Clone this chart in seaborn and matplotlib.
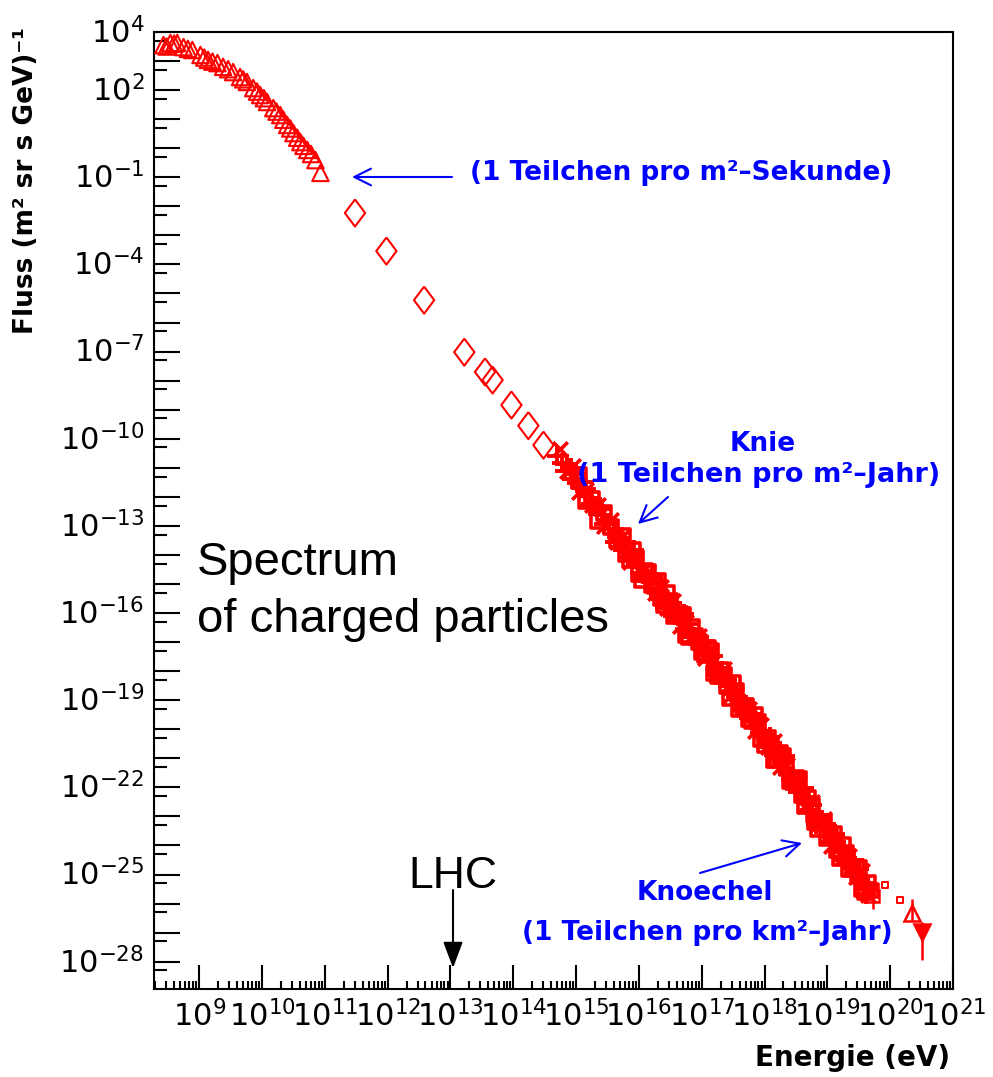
import numpy as np
import pandas as pd
import seaborn as sns
import matplotlib.pyplot as plt
import matplotlib.transforms as mtransforms
from matplotlib.ticker import FixedLocator, NullFormatter

# values are log10(energy / eV) and log10(flux)
tri_logE = [8.43, 8.48, 8.54, 8.60, 8.65, 8.75, 8.82, 8.89, 9.02, 9.08, 9.14, 9.21, 9.29,
            9.38, 9.46, 9.54, 9.65, 9.70, 9.76, 9.86, 9.92, 9.97, 10.03, 10.08, 10.18,
            10.23, 10.29, 10.34, 10.40, 10.45, 10.50, 10.56, 10.61, 10.66, 10.72, 10.78,
            10.85, 10.93]
tri_logF = [3.55, 3.50, 3.62, 3.60, 3.62, 3.48, 3.42, 3.38, 3.21, 3.12, 3.04, 2.98, 2.93,
            2.80, 2.72, 2.62, 2.45, 2.37, 2.28, 2.07, 1.95, 1.83, 1.72, 1.59, 1.38,
            1.26, 1.14, 0.98, 0.80, 0.68, 0.52, 0.36, 0.21, 0.08, -0.06, -0.20,
            -0.41, -0.85]

dia_logE = [11.48, 11.98, 12.58, 13.22, 13.55, 13.67, 13.97, 14.24, 14.48]
dia_logF = [-2.23, -3.54, -5.23, -7.02, -7.70, -7.98, -8.84, -9.55, -10.22]

plus_logE = [14.70, 14.78, 14.85, 14.93, 15.00, 15.08, 15.15, 15.23, 15.30, 15.38, 15.45,
             15.53, 15.60, 15.68, 15.75, 15.83, 15.90, 15.98, 16.05, 16.13, 16.20, 16.28,
             16.35, 16.43, 16.50, 16.58, 16.65, 16.73, 16.80, 16.88, 16.95, 17.03, 17.10,
             17.18, 17.25, 17.33, 17.40, 17.48, 17.55, 17.63, 17.70, 17.78, 17.85, 17.93,
             18.00, 18.08, 18.15, 18.23, 18.30, 18.38, 18.45, 18.53, 18.60, 18.68, 18.75,
             18.83, 18.90, 18.98, 19.05, 19.13, 19.20, 19.28, 19.35, 19.43, 19.50, 19.58,
             19.65]
plus_logF = [-10.60, -10.82, -10.86, -11.37, -11.21, -11.70, -11.73, -12.23, -12.33, -12.34,
             -12.92, -12.91, -13.10, -13.55, -13.59, -14.07, -13.90, -14.36, -14.35, -14.82,
             -14.92, -14.92, -15.50, -15.48, -15.64, -16.07, -16.09, -16.55, -16.36, -16.82,
             -16.84, -17.34, -17.45, -17.48, -18.08, -18.09, -18.30, -18.78, -18.84, -19.35,
             -19.18, -19.65, -19.66, -20.14, -20.25, -20.27, -20.87, -20.87, -21.07, -21.54,
             -21.61, -22.15, -22.03, -22.55, -22.59, -23.10, -23.23, -23.27, -23.87, -23.87,
             -24.04, -24.49, -24.51, -24.99, -24.80, -25.30, -25.35]

plus2_logE = [14.82, 14.92, 15.02, 15.12, 15.22, 15.32, 15.42, 15.52, 15.62, 15.72, 15.82,
              15.92, 16.02, 16.12, 16.22, 16.32, 16.42, 16.52, 16.62, 16.72, 16.82, 16.92,
              17.02, 17.12, 17.22, 17.32, 17.42, 17.52, 17.62, 17.72, 17.82, 17.92, 18.02,
              18.12, 18.22, 18.32, 18.42, 18.52, 18.62, 18.72, 18.82, 18.92, 19.02, 19.12,
              19.22, 19.32, 19.42, 19.52, 19.62]
plus2_logF = [-11.10, -10.99, -11.51, -11.48, -12.30, -12.34, -12.43, -13.12, -13.56, -13.40,
              -13.89, -13.83, -14.62, -14.65, -14.73, -15.41, -15.83, -15.64, -16.11, -16.02,
              -16.80, -16.85, -16.95, -17.66, -18.12, -17.99, -18.51, -18.49, -19.31, -19.37,
              -19.47, -20.16, -20.61, -20.46, -20.97, -20.93, -21.75, -21.86, -22.03, -22.79,
              -23.27, -23.14, -23.66, -23.62, -24.40, -24.43, -24.51, -25.19, -25.68]

sq_logE = [15.8, 15.9, 16.0, 16.1, 16.2, 16.3, 16.4, 16.5, 16.6, 16.7, 16.8, 16.9, 17.0,
           17.1, 17.2, 17.3, 17.4, 17.5, 17.6, 17.7, 17.8, 17.9, 18.0, 18.1, 18.2, 18.3,
           18.4, 18.5, 18.6, 18.7, 18.8, 18.9, 19.0, 19.1, 19.2, 19.3, 19.4, 19.5, 19.6,
           19.7]
sq_logF = [-13.98, -13.83, -14.66, -14.54, -15.02, -14.90, -15.73, -15.59, -16.06, -16.07,
           -16.84, -16.79, -17.34, -17.20, -18.06, -17.97, -18.50, -18.42, -19.30, -19.21,
           -19.71, -19.75, -20.55, -20.50, -21.06, -20.92, -21.78, -21.69, -22.26, -22.37,
           -23.21, -23.18, -23.75, -23.62, -24.44, -24.27, -24.80, -24.78, -25.60, -25.55]

sq2_logE = [15.05, 15.15, 15.25, 15.35, 15.45, 15.55, 15.65, 15.75, 15.85, 15.95, 16.05,
            16.15, 16.25, 16.35, 16.45, 16.55, 16.65, 16.75, 16.85, 16.95, 17.05, 17.15,
            17.25, 17.35, 17.45, 17.55, 17.65, 17.75, 17.85, 17.95, 18.05, 18.15, 18.25,
            18.35, 18.45, 18.55, 18.65, 18.75, 18.85, 18.95, 19.05, 19.15, 19.25, 19.35,
            19.45, 19.55, 19.65]
sq2_logF = [-11.25, -12.13, -12.08, -12.82, -12.56, -13.05, -13.49, -13.34, -14.18, -14.12,
            -14.85, -14.58, -15.06, -15.49, -15.31, -16.12, -16.04, -16.75, -16.49, -16.99,
            -17.45, -17.30, -18.17, -18.13, -18.91, -18.69, -19.20, -19.66, -19.51, -20.35,
            -20.30, -21.06, -20.81, -21.32, -21.81, -21.72, -22.64, -22.64, -23.42, -23.19,
            -23.71, -24.15, -23.98, -24.81, -24.74, -25.49, -25.30]

star_logE = [14.75, 14.85, 14.95, 15.05, 15.15, 15.25, 15.35, 15.45, 15.55, 15.65, 15.75,
             15.85, 15.95, 16.05, 16.15, 16.25, 16.35, 16.45, 16.55, 16.65, 16.75, 16.85,
             16.95, 17.05, 17.15, 17.25, 17.35, 17.45, 17.55, 17.65, 17.75, 17.85, 17.95,
             18.05, 18.15, 18.25, 18.35, 18.45, 18.55, 18.65, 18.75, 18.85, 18.95, 19.05,
             19.15, 19.25, 19.35, 19.45, 19.55, 19.65]
star_logF = [-10.35, -11.11, -10.93, -11.85, -11.78, -12.28, -12.27, -13.01, -12.80, -13.54,
             -13.34, -14.23, -14.12, -14.60, -14.58, -15.31, -15.09, -15.81, -15.57, -16.44,
             -16.30, -16.79, -16.79, -17.55, -17.35, -18.12, -17.93, -18.86, -18.79, -19.30,
             -19.31, -20.06, -19.85, -20.60, -20.41, -21.31, -21.22, -21.76, -21.82, -22.64,
             -22.49, -23.27, -23.09, -24.01, -23.90, -24.38, -24.36, -25.09, -24.89, -25.70]

# points with error bars at the high energy end: logE, logF, lower, upper
err_logE = [18.75, 19.20, 19.45, 19.72]
err_logF = [-22.95, -24.30, -25.10, -25.75]
err_lo = [-23.30, -24.70, -25.50, -26.20]
err_hi = [-22.95, -24.30, -25.10, -25.75]

tail_sq_logE = [19.92, 20.16]
tail_sq_logF = [-25.36, -25.88]
up_logE, up_logF, up_lo, up_hi = [20.35], [-26.33], [-26.60], [-25.85]
dn_logE, dn_logF, dn_lo, dn_hi = [20.51], [-26.98], [-27.94], [-26.65]

x_exps = list(range(9, 22))
y_exps = list(range(-28, 5))
y_label_exps = [4, 2, -1, -4, -7, -10, -13, -16, -19, -22, -25, -28]

W, H = 993, 1077
red, blue = '#ff0000', '#0000ff'
diamond = [(0, 1), (0.75, 0), (0, -1), (-0.75, 0), (0, 1)]

sns.set_theme(style='white')
plt.rcParams['font.family'] = ['DejaVu Sans']
plt.rcParams['mathtext.fontset'] = 'dejavusans'
plt.rcParams['text.color'] = 'black'
plt.rcParams['xtick.direction'] = 'in'
plt.rcParams['ytick.direction'] = 'in'

fig = plt.figure(figsize=(W / 100, H / 100), dpi=100)
ax = fig.add_axes([154 / W, 1 - 989 / H, 799 / W, 957 / H])
ax.set_xscale('log')
ax.set_yscale('log')


def frame(le, lf):
    return pd.DataFrame({'E': 10.0 ** np.array(le), 'F': 10.0 ** np.array(lf)})


def P(x, y):
    return (x / W, 1 - y / H)


open_kw = dict(facecolor='none', edgecolor=red, ax=ax, zorder=3)
sns.scatterplot(data=frame(tri_logE, tri_logF), x='E', y='F', marker='^', s=140,
                linewidth=1.5, **open_kw)
sns.scatterplot(data=frame(dia_logE, dia_logF), x='E', y='F', marker=diamond, s=380,
                linewidth=1.5, **open_kw)
for le, lf in [(sq_logE, sq_logF), (sq2_logE, sq2_logF)]:
    sns.scatterplot(data=frame(le, lf), x='E', y='F', marker='s', s=100,
                    linewidth=2.6, **open_kw)
for le, lf in [(plus_logE, plus_logF), (plus2_logE, plus2_logF)]:
    sns.scatterplot(data=frame(le, lf), x='E', y='F', marker='+', s=200,
                    color=red, linewidth=2.8, ax=ax, zorder=3)
sns.scatterplot(data=frame(star_logE, star_logF), x='E', y='F', marker='x', s=110,
                color=red, linewidth=2.6, ax=ax, zorder=3)
sns.scatterplot(data=frame(tail_sq_logE, tail_sq_logF), x='E', y='F', marker='s', s=18,
                linewidth=1.4, **open_kw)

for le, lf, lo, hi, mk, fc in [(err_logE, err_logF, err_lo, err_hi, 's', 'none'),
                               (up_logE, up_logF, up_lo, up_hi, '^', 'none'),
                               (dn_logE, dn_logF, dn_lo, dn_hi, 'v', red)]:
    e = 10.0 ** np.array(le)
    f = 10.0 ** np.array(lf)
    yerr = [f - 10.0 ** np.array(lo), 10.0 ** np.array(hi) - f]
    ax.errorbar(e, f, yerr=yerr, fmt=mk, ms=12 if mk != 's' else 8, mfc=fc, mec=red,
                mew=1.8, ecolor=red, elinewidth=1.8, capsize=0, zorder=3)

ax.set_xlim(10 ** 8.28, 10 ** 21.0)
ax.set_ylim(10 ** -28.94, 10 ** 4.0)

ax.set_xticks([10.0 ** k for k in x_exps], labels=[f'$10^{{{k}}}$' for k in x_exps])
ax.xaxis.set_minor_locator(FixedLocator([m * 10.0 ** k for k in range(8, 21) for m in range(2, 10)]))
ax.xaxis.set_minor_formatter(NullFormatter())
ax.set_yticks([10.0 ** k for k in y_exps],
              labels=[f'$10^{{{k}}}$' if k in y_label_exps else '' for k in y_exps])
ax.yaxis.set_minor_locator(FixedLocator([5 * 10.0 ** k for k in range(-29, 4)]))
ax.yaxis.set_minor_formatter(NullFormatter())

ax.tick_params(axis='both', which='both', direction='in', color='black', width=1.5,
               bottom=True, left=True, top=False, right=False, labelsize=22,
               labelcolor='black')
ax.tick_params(axis='y', which='major', length=18.5, pad=7)
ax.tick_params(axis='y', which='minor', length=9.5)
ax.tick_params(axis='x', which='major', length=17, pad=8)
ax.tick_params(axis='x', which='minor', length=6)
shift = mtransforms.ScaledTranslation(0, 2 / 100, fig.dpi_scale_trans)
for lab in ax.get_yticklabels():
    lab.set_transform(lab.get_transform() + shift)

for sp in ax.spines.values():
    sp.set_color('black')
    sp.set_linewidth(1.5)
ax.grid(False)
ax.set_xlabel('')
ax.set_ylabel('')

fig.text(*P(26, 27), 'Fluss (m² sr s GeV)⁻¹', rotation=90, ha='center', va='top',
         fontsize=19, fontweight='bold', color='black')
fig.text(*P(950, 1058), 'Energie (eV)', ha='right', va='center', fontsize=20,
         fontweight='bold', color='black')

# blue annotations
arrow_kw = dict(arrowstyle='->,head_length=0.6,head_width=0.3', color=blue,
                lw=1.5, shrinkA=0, shrinkB=0, mutation_scale=20)
fig.text(*P(470, 173), '(1 Teilchen pro m²–Sekunde)', ha='left', va='center',
         color=blue, fontsize=19, fontweight='bold')
ax.annotate('', xy=P(352, 177), xytext=P(452, 177), xycoords='figure fraction',
            arrowprops=arrow_kw)
fig.text(*P(763, 444), 'Knie', ha='center', va='center', color=blue, fontsize=19,
         fontweight='bold')
fig.text(*P(940, 475), '(1 Teilchen pro m²–Jahr)', ha='right', va='center', color=blue,
         fontsize=19.5, fontweight='bold')
ax.annotate('', xy=P(638, 524), xytext=P(668, 497), xycoords='figure fraction',
            arrowprops=arrow_kw)
fig.text(*P(705, 893), 'Knoechel', ha='center', va='center', color=blue, fontsize=19,
         fontweight='bold')
fig.text(*P(893, 933), '(1 Teilchen pro km²–Jahr)', ha='right', va='center', color=blue,
         fontsize=19, fontweight='bold')
ax.annotate('', xy=P(802, 843), xytext=P(700, 873), xycoords='figure fraction',
            arrowprops=arrow_kw)

# black overlay texts
fig.text(*P(197, 575), 'Spectrum', ha='left', va='baseline', fontsize=34,
         family='Liberation Sans', color='black')
fig.text(*P(197, 632), 'of charged particles', ha='left', va='baseline', fontsize=34,
         family='Liberation Sans', color='black')
fig.text(*P(453, 888), 'LHC', ha='center', va='baseline', fontsize=32,
         family='Liberation Sans', color='black')
ax.annotate('', xy=P(453, 968), xytext=P(453, 890), xycoords='figure fraction',
            arrowprops=dict(arrowstyle='-|>,head_length=0.8,head_width=0.3', color='black',
                            lw=1.5, shrinkA=0, shrinkB=0, mutation_scale=20))

fig.savefig('out.png', dpi=100, facecolor='white')
